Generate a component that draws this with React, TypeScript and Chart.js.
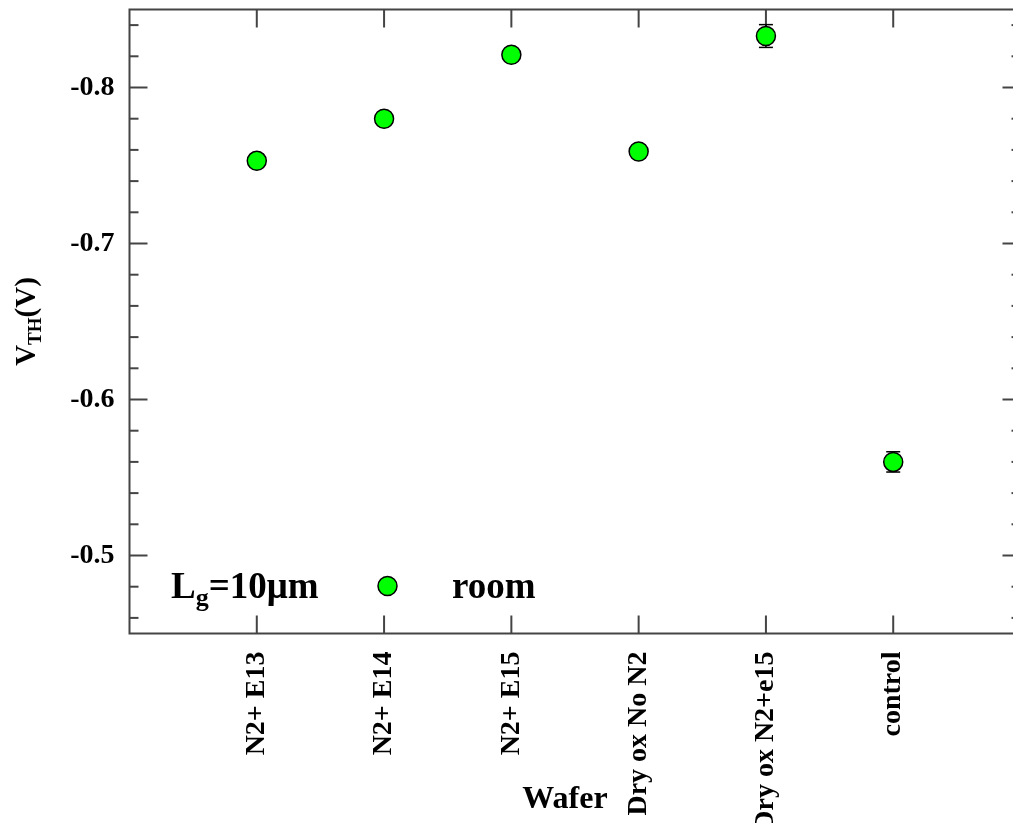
import React, { useEffect, useRef } from 'react';
import { Chart, registerables } from 'chart.js';

Chart.register(...registerables);

// Wafer splits on the x axis
const categories = ['N2+ E13', 'N2+ E14', 'N2+ E15', 'Dry ox No N2', 'Dry ox N2+e15', 'control'];
// Threshold voltage at room temperature (V) and its spread
const vthRoom = [-0.753, -0.78, -0.821, -0.759, -0.833, -0.56];
const vthErr = [0.002, 0.002, 0.002, 0.002, 0.0073, 0.0065];
// Y axis range and ticks
const yRange = [-0.85, -0.45];
const yMajorTicks = [-0.8, -0.7, -0.6, -0.5];
const yMinorStep = 0.02;
// Texts
const seriesName = 'room';
const gateLengthText = '=10\u03bcm';
const xTitle = 'Wafer';

const FONT = '"Liberation Serif", "Times New Roman", serif';
const GREEN = '#00ff00';
const AXIS = '#444';

const isMajor = (v: number) => yMajorTicks.some((m) => Math.abs(m - v) < 1e-6);

// all tick positions (major + minor) inside the y range
const yTickValues = (() => {
  const out: number[] = [];
  const n0 = Math.ceil(yRange[0] / yMinorStep + 1e-6);
  const n1 = Math.floor(yRange[1] / yMinorStep - 1e-6);
  for (let n = n0; n <= n1; n++) out.push(Math.round(n * yMinorStep * 1000) / 1000);
  return out;
})();

const framePlugin = {
  id: 'frame',
  beforeDatasetsDraw(chart: any) {
    const { ctx, chartArea: a, scales } = chart;
    const ys = scales.y;
    const xs = scales.x;
    const line = (x1: number, y1: number, x2: number, y2: number) => {
      ctx.beginPath();
      ctx.moveTo(x1, y1);
      ctx.lineTo(x2, y2);
      ctx.stroke();
    };
    ctx.save();
    ctx.strokeStyle = AXIS;
    ctx.lineWidth = 2;
    ctx.strokeRect(a.left, a.top, a.right - a.left, a.bottom - a.top);
    ys.ticks.forEach((t: any) => {
      const p = ys.getPixelForValue(t.value);
      const len = isMajor(t.value) ? 18 : 9;
      line(a.left, p, a.left + len, p);
      line(a.right - len, p, a.right, p);
    });
    categories.forEach((_, i) => {
      const p = xs.getPixelForValue(i);
      line(p, a.bottom, p, a.bottom - 18);
      line(p, a.top, p, a.top + 18);
    });
    // error bars
    ctx.strokeStyle = '#000';
    ctx.lineWidth = 1.5;
    vthRoom.forEach((v, i) => {
      const px = xs.getPixelForValue(i);
      const y1 = ys.getPixelForValue(v - vthErr[i]);
      const y2 = ys.getPixelForValue(v + vthErr[i]);
      line(px, y1, px, y2);
      line(px - 7, y1, px + 7, y1);
      line(px - 7, y2, px + 7, y2);
    });
    ctx.restore();
  },
  afterDraw(chart: any) {
    const { ctx, chartArea: a } = chart;
    ctx.save();
    ctx.fillStyle = '#000';
    ctx.textBaseline = 'alphabetic';

    // y axis title: V_TH(V), rotated
    const big = `bold 29px ${FONT}`;
    const small = `bold 19px ${FONT}`;
    ctx.font = big;
    const wV = ctx.measureText('V').width;
    const wP = ctx.measureText('(V)').width;
    ctx.font = small;
    const wS = ctx.measureText('TH').width;
    const total = wV + wS + wP;
    ctx.save();
    ctx.translate(27, (a.top + a.bottom) / 2);
    ctx.rotate(-Math.PI / 2);
    let x = -total / 2;
    ctx.font = big;
    ctx.fillText('V', x, 0);
    x += wV;
    ctx.font = small;
    ctx.fillText('TH', x, 6);
    x += wS;
    ctx.font = big;
    ctx.fillText('(V)', x, 0);
    ctx.restore();

    // x axis title
    ctx.font = `bold 32px ${FONT}`;
    ctx.textAlign = 'center';
    ctx.fillText(xTitle, 557, 800);
    ctx.textAlign = 'left';

    // legend
    const lx = 163;
    const ly = 590;
    ctx.font = `bold 37px ${FONT}`;
    ctx.fillText('L', lx, ly);
    let lxx = lx + ctx.measureText('L').width;
    ctx.font = `bold 26px ${FONT}`;
    ctx.fillText('g', lxx, ly + 8);
    lxx += ctx.measureText('g').width;
    ctx.font = `bold 37px ${FONT}`;
    ctx.fillText(gateLengthText, lxx, ly);

    ctx.beginPath();
    ctx.arc(379.5, 578, 9.5, 0, Math.PI * 2);
    ctx.fillStyle = GREEN;
    ctx.fill();
    ctx.lineWidth = 1.5;
    ctx.strokeStyle = '#000';
    ctx.stroke();

    ctx.fillStyle = '#000';
    ctx.font = `bold 37px ${FONT}`;
    ctx.fillText(seriesName, 444, ly);
    ctx.restore();
  },
};

const zeroPadding = (s: any) => {
  s.paddingTop = 0;
  s.paddingBottom = 0;
  s.paddingLeft = 0;
  s.paddingRight = 0;
};

export default function App() {
  const ref = useRef<HTMLCanvasElement | null>(null);

  useEffect(() => {
    if (!ref.current) return;
    Chart.defaults.color = '#000';
    const chart = new Chart(ref.current, {
      type: 'scatter',
      data: {
        datasets: [
          {
            label: seriesName,
            data: vthRoom.map((v, i) => ({ x: i, y: v })),
            backgroundColor: GREEN,
            borderColor: '#000',
            borderWidth: 1.5,
            pointRadius: 9.5,
            pointHoverRadius: 9.5,
          },
        ],
      },
      options: {
        animation: false,
        responsive: false,
        layout: { autoPadding: false, padding: { top: 1.5, right: 27.5, left: 0, bottom: 0 } },
        plugins: { legend: { display: false }, tooltip: { enabled: false } },
        scales: {
          x: {
            type: 'linear',
            min: -1,
            max: categories.length,
            grid: { display: false },
            border: { display: false },
            afterFit: (s: any) => {
              s.height = 189.5;
              zeroPadding(s);
            },
            ticks: {
              stepSize: 1,
              autoSkip: false,
              minRotation: 90,
              maxRotation: 90,
              padding: 10,
              color: '#000',
              font: { family: FONT, size: 28, weight: 'bold' },
              callback: (v: any) => categories[Math.round(Number(v))] ?? '',
            },
          },
          y: {
            type: 'linear',
            reverse: true,
            min: yRange[0],
            max: yRange[1],
            grid: { display: false },
            border: { display: false },
            afterBuildTicks: (s: any) => {
              s.ticks = yTickValues.map((value) => ({ value }));
            },
            afterFit: (s: any) => {
              s.width = 121.5;
              zeroPadding(s);
            },
            ticks: {
              autoSkip: false,
              padding: 7,
              color: '#000',
              font: { family: FONT, size: 28, weight: 'bold' },
              callback: (v: any) => (isMajor(Number(v)) ? Number(v).toFixed(1) : ''),
            },
          },
        },
      },
      plugins: [framePlugin],
    } as any);
    return () => chart.destroy();
  }, []);

  return (
    <div
      style={{
        position: 'fixed',
        left: 8,
        top: 8,
        width: 1005,
        height: 815,
        overflow: 'hidden',
        background: '#fff',
      }}
    >
      <canvas ref={ref} width={1040} height={815} style={{ display: 'block' }} />
    </div>
  );
}
